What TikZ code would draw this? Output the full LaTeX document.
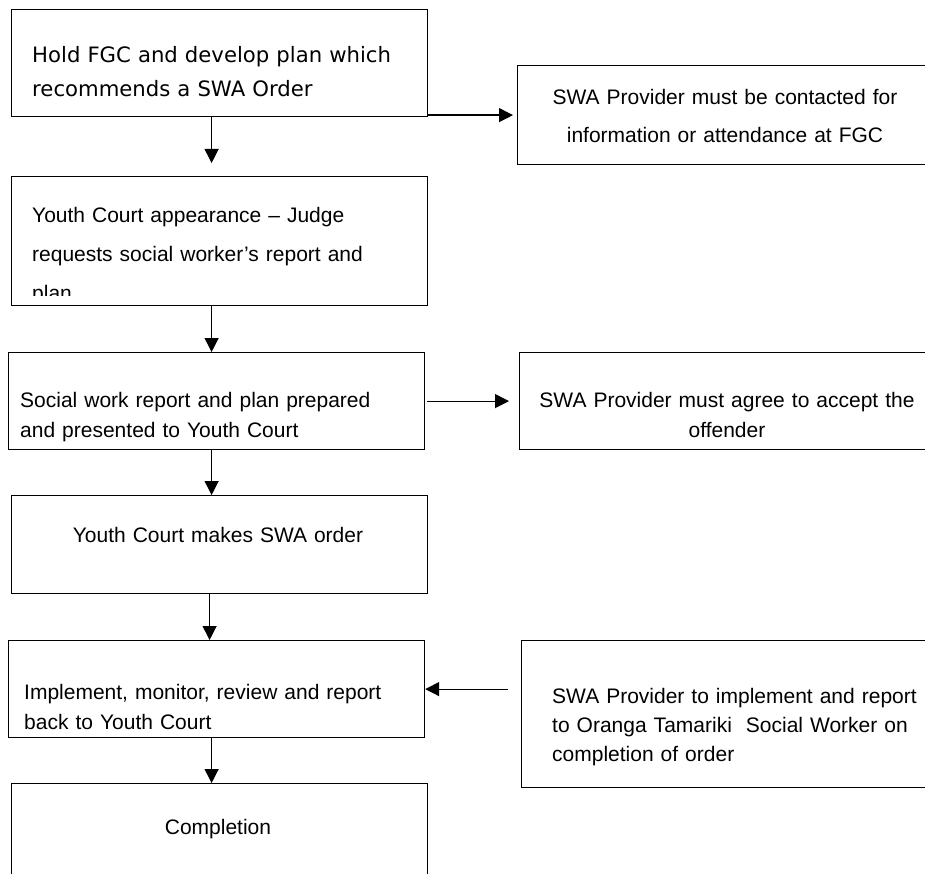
\documentclass[tikz,border=0pt]{standalone}
\usepackage{fontspec}
\setmainfont{Liberation Sans}
\newfontfamily\verd{DejaVu Sans}
\usetikzlibrary{arrows.meta}
\begin{document}
\begin{tikzpicture}[x=1pt,y=-1pt,
  box/.style={draw,line width=1.2pt,inner sep=0pt,anchor=north west},
  txt/.style={inner sep=0pt,anchor=base west,text width=400pt,align=left},
  ctxt/.style={inner sep=0pt,anchor=base,text width=400pt,align=center},
  arr/.style={line width=1.2pt,-{Triangle[length=14pt,width=14pt]}}]
\useasboundingbox (0,0) rectangle (925,874);
\clip (0,0) rectangle (925,874);
% boxes
\node[box,minimum width=416pt,minimum height=107pt] (b1) at (11,9) {};
\node[box,minimum width=416pt,minimum height=129pt] (b2) at (11,176) {};
\node[box,minimum width=416pt,minimum height=97pt] (b3) at (8,352) {};
\node[box,minimum width=416pt,minimum height=98pt] (b4) at (11,495) {};
\node[box,minimum width=416pt,minimum height=97pt] (b5) at (8,640) {};
\node[box,minimum width=416pt,minimum height=120pt] (b6) at (11,783) {};
\node[box,minimum width=420pt,minimum height=99pt] (r1) at (517,65) {};
\node[box,minimum width=420pt,minimum height=97pt] (r2) at (519,352) {};
\node[box,minimum width=420pt,minimum height=147pt] (r3) at (521,640) {};
% texts
\node[txt,font=\verd\fontsize{21.2}{34}\selectfont] (t1) at (32,63) {Hold FGC and develop plan which\\recommends a SWA Order};
\begin{scope}
\clip (b2.north west) rectangle ([yshift=11pt]b2.south east);
\node[txt,font=\fontsize{21}{39}\selectfont] (t2) at (32,223) {Youth Court appearance – Judge\\requests social worker’s report and\\plan};
\end{scope}
\node[txt,font=\fontsize{21}{30}\selectfont] (t3) at (20,407) {Social work report and plan prepared\\and presented to Youth Court};
\node[ctxt,font=\fontsize{21}{30}\selectfont] (t4) at (218,542) {Youth Court makes SWA order};
\node[txt,font=\fontsize{21}{30}\selectfont] (t5) at (24,699) {Implement, monitor, review and report\\back to Youth Court};
\node[ctxt,font=\fontsize{21}{30}\selectfont] (t6) at (218,834) {Completion};
\node[ctxt,font=\fontsize{21}{38}\selectfont] (tr1) at (725,105) {SWA Provider must be contacted for\\information or attendance at FGC};
\node[ctxt,font=\fontsize{21}{30}\selectfont] (tr2) at (727,407) {SWA Provider must agree to accept the\\offender};
\node[txt,font=\fontsize{21}{29}\selectfont] (tr3) at (552,703) {SWA Provider to implement and report\\to Oranga Tamariki\ \ Social Worker on\\completion of order};
% connectors
\draw[arr,shorten >=13pt] ([xshift=-8pt]b1.south) -- ([xshift=-8pt]b2.north);
\draw[arr] ([xshift=-8pt]b2.south) -- ([xshift=-5pt]b3.north);
\draw[arr] ([xshift=-5pt]b3.south) -- ([xshift=-8pt]b4.north);
\draw[arr] ([xshift=-10pt]b4.south) -- ([xshift=-7pt]b5.north);
\draw[arr] ([xshift=-5pt]b5.south) -- ([xshift=-8pt]b6.north);
\draw[arr,shorten >=4pt] (b1.east |- r1.west) -- (r1.west);
\draw[arr,shorten <=2pt,shorten >=10pt] (b3.east) -- (r2.west);
\draw[arr,shorten <=13pt] (r3.west |- b5.east) -- (b5.east);
\end{tikzpicture}
\end{document}
